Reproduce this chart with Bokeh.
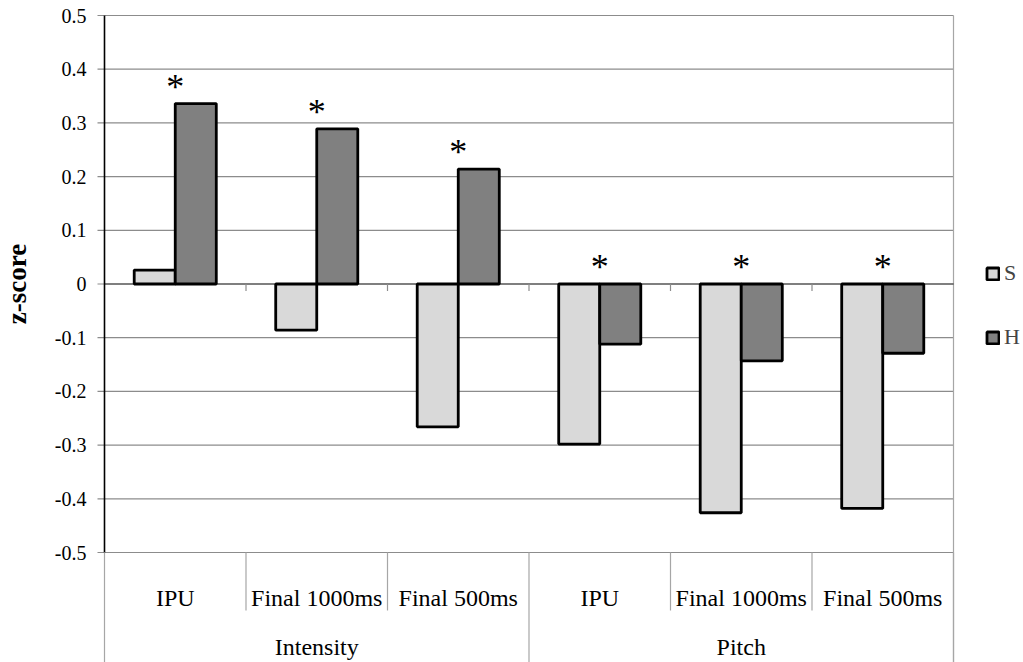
import math
from bokeh.plotting import figure
from bokeh.models import Range1d, Legend, LegendItem, ColumnDataSource
from bokeh.core.properties import value
from bokeh.embed import file_html
from bokeh.resources import INLINE

# ---------------- data ----------------
groups = ["Intensity", "Pitch"]
subcats = ["IPU", "Final 1000ms", "Final 500ms"]
series_names = ["S", "H"]
s_values = [0.026, -0.086, -0.266, -0.298, -0.426, -0.418]
h_values = [0.336, 0.289, 0.214, -0.112, -0.143, -0.129]
significant = [True, True, True, True, True, True]
y_ticks = [-0.5, -0.4, -0.3, -0.2, -0.1, 0.0, 0.1, 0.2, 0.3, 0.4, 0.5]
y_tick_labels = ["-0.5", "-0.4", "-0.3", "-0.2", "-0.1", "0", "0.1", "0.2", "0.3", "0.4", "0.5"]
y_title = "z-score"

# ---------------- layout (pixels) ----------------
W, H = 1023, 662
LEFT, TOP = 104, 15          # position of the plot area's top-left corner
PX_X = 141.5                 # pixels per category
PX_Y = 537.0                 # pixels per 1.0 z-score
n_cat = len(groups) * len(subcats)
x_start = -LEFT / PX_X
x_end = (W - LEFT) / PX_X
y_end = y_ticks[-1] + TOP / PX_Y
y_start = y_end - H / PX_Y

def dx(px):
    return px / PX_X

def dy(px):
    return px / PX_Y

FONT = "Liberation Serif"
GRID = "#8c8c8c"
SEP = "#a6a6a6"
S_FILL = "#d9d9d9"
H_FILL = "#808080"
BAR_W = 0.29

p = figure(width=W, height=H, output_backend="svg", toolbar_location=None,
           x_range=Range1d(x_start, x_end), y_range=Range1d(y_start, y_end),
           x_axis_location=None, y_axis_location=None,
           min_border=0)
p.outline_line_color = None
p.xgrid.visible = False
p.ygrid.visible = False
p.background_fill_color = "white"
p.border_fill_color = "white"

# gridlines (except zero)
gy = [t for t in y_ticks if t != 0]
p.segment(x0=[0] * len(gy), x1=[n_cat] * len(gy), y0=gy, y1=gy, line_color=GRID, line_width=1.2)
# y ticks (outside, to the left)
p.segment(x0=[-dx(7)] * len(y_ticks), x1=[0] * len(y_ticks), y0=y_ticks, y1=y_ticks,
          line_color=GRID, line_width=1.2)
# right border of plot area
p.segment(x0=[n_cat], x1=[n_cat], y0=[y_ticks[-1]], y1=[y_start], line_color=SEP, line_width=1.2)
# zero line
p.segment(x0=[0], x1=[n_cat], y0=[0], y1=[0], line_color="black", line_width=1.2)
# small ticks below zero line at category boundaries
bx = list(range(1, n_cat))
p.segment(x0=bx, x1=bx, y0=[0] * len(bx), y1=[-dy(7)] * len(bx), line_color=GRID, line_width=1.2)
# y axis line
p.segment(x0=[0], x1=[0], y0=[y_ticks[0]], y1=[y_ticks[-1]], line_color="black", line_width=1.6)

# y tick labels
p.text(x=[-dx(18)] * len(y_ticks), y=y_ticks, text=y_tick_labels, text_font=value(FONT),
       text_font_size="20px", text_align="right", text_baseline="middle", text_color="black")
# y title
p.text(x=[-dx(LEFT - 16)], y=[(y_ticks[0] + y_ticks[-1]) / 2], text=[y_title], angle=math.pi / 2,
       text_font=value(FONT), text_font_size="27px", text_font_style="bold",
       text_align="center", text_baseline="middle", text_color="black")

# bars
centers = [i + 0.5 for i in range(n_cat)]
src = ColumnDataSource(dict(xs=[c - BAR_W / 2 for c in centers], xh=[c + BAR_W / 2 for c in centers],
                            s=s_values, h=h_values))
rs = p.vbar(x="xs", top="s", bottom=0, width=BAR_W, source=src, fill_color=S_FILL,
            line_color="black", line_width=2.8)
rh = p.vbar(x="xh", top="h", bottom=0, width=BAR_W, source=src, fill_color=H_FILL,
            line_color="black", line_width=2.8)

# significance asterisks
ax_x = [c for c, sg in zip(centers, significant) if sg]
ax_y = [max(0, sv, hv) + dy(17) for sv, hv, sg in zip(s_values, h_values, significant) if sg]
p.text(x=ax_x, y=ax_y, text=["*"] * len(ax_x), text_font=value(FONT), text_font_size="36px",
       text_align="center", text_baseline="middle", text_color="black")

# category axis separators below plot
y_axis_bottom = y_ticks[0]
short = [i for i in range(n_cat + 1) if i % len(subcats) != 0]
long_ = [i for i in range(n_cat + 1) if i % len(subcats) == 0]
p.segment(x0=short, x1=short, y0=[y_axis_bottom] * len(short),
          y1=[y_axis_bottom - dy(58)] * len(short), line_color=SEP, line_width=1.2)
p.segment(x0=long_, x1=long_, y0=[y_axis_bottom] * len(long_),
          y1=[y_start] * len(long_), line_color=SEP, line_width=1.2)

# category labels
sub_labels = [s for g in groups for s in subcats]
p.text(x=centers, y=[y_axis_bottom - dy(45)] * n_cat, text=sub_labels,
       text_font=value(FONT), text_font_size="24px", text_align="center",
       text_baseline="alphabetic", text_color="black")
g_centers = [len(subcats) * (gi + 0.5) for gi in range(len(groups))]
p.text(x=g_centers, y=[y_axis_bottom - dy(94)] * len(groups), text=groups,
       text_font=value(FONT), text_font_size="24px", text_align="center",
       text_baseline="alphabetic", text_color="black")

# legend
legend = Legend(items=[LegendItem(label=series_names[0], renderers=[rs]),
                       LegendItem(label=series_names[1], renderers=[rh])],
                location=(985, 312), glyph_width=15, glyph_height=15, label_height=15,
                spacing=38, padding=0, margin=0, border_line_color=None,
                background_fill_alpha=0, label_text_font=FONT, label_text_font_size="22px",
                label_standoff=4)
p.add_layout(legend)

open("out.html", "w").write(file_html(p, INLINE))
